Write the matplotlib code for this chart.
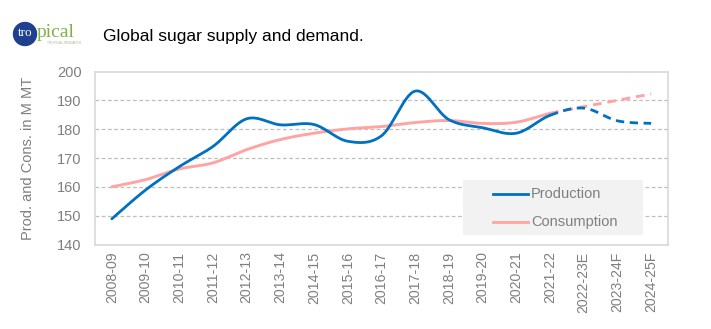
import numpy as np
import matplotlib
matplotlib.use("Agg")
import matplotlib.pyplot as plt
from matplotlib.patches import Ellipse

plt.rcParams['font.family'] = ['Liberation Sans', 'DejaVu Sans']

seasons = ["2008-09", "2009-10", "2010-11", "2011-12", "2012-13", "2013-14",
           "2014-15", "2015-16", "2016-17", "2017-18", "2018-19", "2019-20",
           "2020-21", "2021-22", "2022-23E", "2023-24F", "2024-25F"]
production = [148.9, 158.9, 167.0, 174.0, 183.6, 181.5, 181.6, 175.8, 177.7,
              193.2, 183.3, 180.5, 178.6, 184.8, 187.3, 182.9, 182.0]
consumption = [160.0, 162.5, 166.2, 168.3, 172.9, 176.4, 178.6, 180.1, 180.9,
               182.3, 183.0, 182.0, 182.4, 185.5, 187.8, 190.0, 192.2]
forecast_start = 13  # index where dashed (forecast) segment begins
yticks = [140, 150, 160, 170, 180, 190, 200]

BLUE = "#0070C0"
PINK = "#FFA3A3"
GRAY_TXT = "#7F7F7F"


def smooth(xs, ys, n=30):
    xs = np.asarray(xs, float); ys = np.asarray(ys, float)
    px, py = [], []
    m = len(xs)
    for i in range(m - 1):
        x0, y0 = xs[max(i - 1, 0)], ys[max(i - 1, 0)]
        x1, y1 = xs[i], ys[i]
        x2, y2 = xs[i + 1], ys[i + 1]
        x3, y3 = xs[min(i + 2, m - 1)], ys[min(i + 2, m - 1)]
        c1x, c1y = x1 + (x2 - x0) / 6, y1 + (y2 - y0) / 6
        c2x, c2y = x2 - (x3 - x1) / 6, y2 - (y3 - y1) / 6
        t = np.linspace(0, 1, n)
        bx = (1-t)**3*x1 + 3*(1-t)**2*t*c1x + 3*(1-t)*t**2*c2x + t**3*x2
        by = (1-t)**3*y1 + 3*(1-t)**2*t*c1y + 3*(1-t)*t**2*c2y + t**3*y2
        px.append(bx); py.append(by)
    return px, py


fig = plt.figure(figsize=(7.11, 3.29), dpi=100)
W, H = 711, 329
ax = fig.add_axes([95 / W, 1 - 244.5 / H, (668 - 95) / W, (244.5 - 71.5) / H])

x = np.arange(len(seasons))
for vals, col, lw in [(consumption, PINK, 2.1), (production, BLUE, 2.0)]:
    segx, segy = smooth(x, vals)
    sx = np.concatenate(segx[:forecast_start]); sy = np.concatenate(segy[:forecast_start])
    ax.plot(sx, sy, color=col, lw=lw, solid_capstyle='round', zorder=3)
    fx = np.concatenate(segx[forecast_start:]); fy = np.concatenate(segy[forecast_start:])
    ax.plot(fx, fy, color=col, lw=lw, ls=(0, (3, 2)), zorder=3)

ax.set_xlim(-0.5, len(seasons) - 0.5)
ax.set_ylim(140, 200)
ax.set_yticks(yticks)
ax.set_xticks(x)
ax.set_xticklabels(seasons, rotation=90, color=GRAY_TXT, fontsize=10.2)
ax.set_yticklabels([str(v) for v in yticks], color=GRAY_TXT, fontsize=10.5)
ax.tick_params(length=0)
ax.tick_params(axis='x', pad=5)
ax.tick_params(axis='y', pad=9.5)
for yv in yticks[1:-1]:
    ax.axhline(yv, color="#BFBFBF", lw=0.9, ls=(0, (3, 2)), zorder=1)
for s in ax.spines.values():
    s.set_color("#D9D9D9"); s.set_linewidth(1.2)

ax.set_ylabel("Prod. and Cons. in M MT", color=GRAY_TXT, fontsize=10.5, labelpad=16)

# legend box
lg = fig.add_axes([463 / W, 1 - 235 / H, 180 / W, 55 / H])
lg.set_xlim(0, 180); lg.set_ylim(55, 0)
lg.set_facecolor("#F2F2F2")
for s in lg.spines.values():
    s.set_visible(False)
lg.set_xticks([]); lg.set_yticks([])
lg.plot([30, 65], [14, 14], color=BLUE, lw=2.0)
lg.plot([30, 65], [42, 42], color=PINK, lw=2.0)
lg.text(68, 14, "Production", color=GRAY_TXT, fontsize=10.5, va='center')
lg.text(68, 42, "Consumption", color=GRAY_TXT, fontsize=10.5, va='center')

# title
fig.text(103 / W, 1 - 36 / H, "Global sugar supply and demand.", fontsize=12.5,
         color="black", va='center', ha='left')

# logo
lax = fig.add_axes([0, 1 - 55 / H, 100 / W, 40 / H])
lax.set_xlim(0, 100); lax.set_ylim(55, 15); lax.axis('off')
lax.add_patch(Ellipse((25, 34), 23, 23, color="#1F3F8F"))
lax.text(25, 33.5, "tro", color="white", fontsize=9.5, family="Liberation Serif",
         ha='center', va='center')
lax.text(36.5, 32.5, "pical", color="#7DB343", fontsize=14, family="Liberation Serif",
         ha='left', va='center')
lax.text(47, 43.5, "TROPICAL RESEARCH", color="#A8B79A", fontsize=2.3,
         ha='left', va='center')

fig.savefig("out.png", dpi=100)
